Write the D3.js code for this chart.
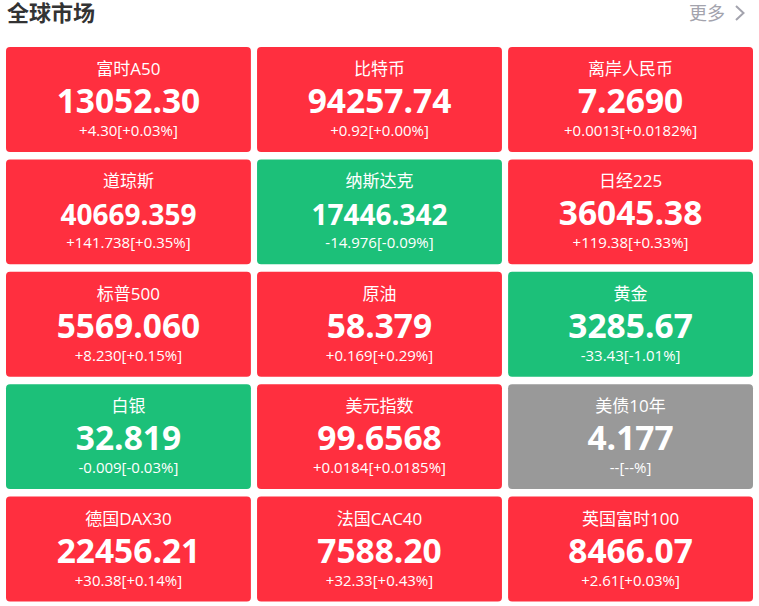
<!DOCTYPE html>
<html><head><meta charset="utf-8">
<script src="https://cdnjs.cloudflare.com/ajax/libs/d3/7.8.5/d3.min.js"></script>
<style>html,body{margin:0;padding:0;background:#fff}svg{display:block}</style>
</head><body><svg id="c" width="759" height="606"></svg>
<script>
const names=["富时A50","比特币","离岸人民币","道琼斯","纳斯达克","日经225","标普500","原油","黄金","白银","美元指数","美债10年","德国DAX30","法国CAC40","英国富时100"];
const prices=["13052.30","94257.74","7.2690","40669.359","17446.342","36045.38","5569.060","58.379","3285.67","32.819","99.6568","4.177","22456.21","7588.20","8466.07"];
const changes=["+4.30[+0.03%]","+0.92[+0.00%]","+0.0013[+0.0182%]","+141.738[+0.35%]","-14.976[-0.09%]","+119.38[+0.33%]","+8.230[+0.15%]","+0.169[+0.29%]","-33.43[-1.01%]","-0.009[-0.03%]","+0.0184[+0.0185%]","--[--%]","+30.38[+0.14%]","+32.33[+0.43%]","+2.61[+0.03%]"];
const states=["up","up","up","up","down","up","up","up","down","down","up","flat","up","up","up"];
const color=d3.scaleOrdinal().domain(["up","down","flat"]).range(["#ff2f3f","#1cc079","#999999"]);
const font="'Open Sans','Noto Sans CJK SC',sans-serif";
const svg=d3.select("#c");
const x=d3.scaleBand().domain([0,1,2]).range([6,753]).paddingInner(0.0245).paddingOuter(0);
const y=d3.scaleBand().domain([0,1,2,3,4]).range([47,601.5]).paddingInner(0.0667).paddingOuter(0);
svg.append("text").attr("x",7).attr("y",21).attr("font-family",font).attr("font-size",22).attr("font-weight",700).attr("fill","#333").text("全球市场");
svg.append("text").attr("x",689).attr("y",20).attr("font-family",font).attr("font-size",18).attr("fill","#a3a3ad").text("更多");
svg.append("path").attr("d","M736 6l7.5 7l-7.5 7").attr("fill","none").attr("stroke","#a3a3ad").attr("stroke-width",2);
const cards=svg.selectAll("g.card").data(names.map((n,i)=>({n,p:prices[i],c:changes[i],s:states[i],col:i%3,row:Math.floor(i/3)}))).join("g").attr("class","card").attr("transform",d=>`translate(${x(d.col)},${y(d.row)})`);
cards.append("rect").attr("width",x.bandwidth()).attr("height",y.bandwidth()).attr("rx",4).attr("fill",d=>color(d.s));
cards.append("text").attr("x",x.bandwidth()/2).attr("y",28).attr("text-anchor","middle").attr("font-family",font).attr("font-size",17).attr("fill","#fff").text(d=>d.n);
cards.append("text").attr("x",x.bandwidth()/2).attr("y",66).attr("text-anchor","middle").attr("font-family",font).attr("font-size",d=>d.p.length>8?28:33.5).attr("font-weight",700).attr("fill","#fff").text(d=>d.p);
cards.append("text").attr("x",x.bandwidth()/2).attr("y",89).attr("text-anchor","middle").attr("font-family",font).attr("font-size",15).attr("fill","#fff").text(d=>d.c);
</script></body></html>
